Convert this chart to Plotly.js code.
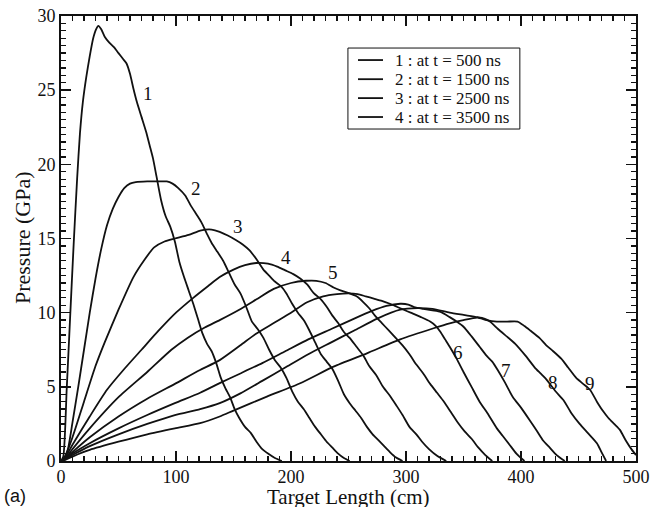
<!DOCTYPE html>
<html>
<head>
<meta charset="utf-8">
<script src="https://cdn.plot.ly/plotly-3.0.1.min.js"></script>
<style>
  html, body { margin: 0; padding: 0; background: #ffffff; }
  #chart { width: 650px; height: 507px; }
</style>
</head>
<body>
<div id="chart"></div>
<script>
// Pressure profiles along the target (x in cm, pressure in GPa), curves 1..9
const x1 = [0, 2, 5, 8, 11, 14, 16.5, 19, 22, 25, 28, 30.5, 32.5, 35, 38, 42, 46, 50, 54, 57, 60, 63, 66, 70, 74, 77, 80, 83, 87, 91, 95, 99, 103, 107, 111, 115, 119, 123, 127, 131, 135, 139, 143, 147, 151, 155, 160, 165, 170, 175, 180, 186, 192];
const y1 = [0, 0.3, 4.9, 9.8, 14.6, 19.0, 22.1, 24.2, 25.9, 27.3, 28.5, 29.1, 29.33, 29.1, 28.6, 28.2, 27.9, 27.5, 27.1, 26.8, 26.1, 25.1, 24.2, 23.2, 22.2, 21.3, 20.4, 19.2, 17.6, 16.5, 15.8, 14.8, 13.4, 12.4, 11.5, 10.6, 9.6, 8.6, 7.9, 7.4, 6.6, 5.6, 4.9, 4.3, 3.5, 2.9, 2.3, 1.9, 1.3, 0.8, 0.5, 0.2, 0];

const x2 = [0, 3, 6, 10, 15, 20, 25, 30, 35, 40, 45, 50, 55, 60, 65, 75, 85, 92, 97, 102, 108, 113, 118, 122, 127, 131, 136, 141, 146, 151, 156, 161, 166, 171, 176, 181, 186, 191, 196, 201, 206, 211, 216, 221, 226, 231, 236, 241, 246, 251];
const y2 = [0, 0.25, 0.8, 2.6, 5.0, 7.5, 10.0, 12.3, 14.3, 15.9, 17.0, 17.8, 18.4, 18.7, 18.8, 18.85, 18.85, 18.85, 18.7, 18.4, 17.9, 17.2, 16.6, 16.1, 15.3, 14.7, 14.1, 13.5, 12.7, 11.9, 11.3, 10.4, 9.4, 8.9, 8.3, 7.5, 6.8, 6.3, 5.6, 4.7, 4.0, 3.5, 2.9, 2.3, 1.8, 1.3, 0.9, 0.5, 0.2, 0];

const x3 = [0, 3, 10, 20, 30, 38, 50, 63, 72, 81, 90, 99, 111, 122, 131, 138, 145, 152, 158, 164, 170, 176, 181, 186, 191, 196, 201, 206, 211, 216, 221, 226, 231, 236, 241, 246, 251, 256, 261, 266, 271, 276, 281, 286, 291, 297];
const y3 = [0, 0.2, 1.6, 4.0, 6.4, 8.0, 10.2, 12.4, 13.5, 14.4, 14.8, 15.0, 15.25, 15.55, 15.6, 15.45, 15.2, 14.9, 14.6, 14.2, 13.6, 12.9, 12.5, 12.1, 11.8, 11.3, 10.6, 10.0, 9.5, 8.8, 8.0, 7.2, 6.7, 6.2, 5.4, 4.5, 3.9, 3.4, 2.9, 2.3, 1.8, 1.4, 1.0, 0.6, 0.25, 0];

const x4 = [0, 3, 10, 25, 40, 55, 70, 85, 100, 115, 128, 138, 150, 160, 170, 180, 188, 195, 202, 208, 214, 220, 226, 231, 236, 241, 246, 251, 257, 263, 268, 274, 280, 286, 292, 297, 303, 309, 314, 320, 327, 335];
const y4 = [0, 0.15, 1.1, 3.0, 4.8, 6.2, 7.5, 8.8, 10.0, 11.0, 11.8, 12.4, 12.9, 13.2, 13.35, 13.3, 13.1, 12.85, 12.6, 12.3, 11.9, 11.3, 10.9, 10.4, 9.8, 9.3, 8.7, 8.3, 7.7, 7.1, 6.4, 5.8, 5.0, 4.4, 3.7, 3.1, 2.3, 1.8, 1.3, 0.8, 0.35, 0];

const x5 = [0, 3, 10, 25, 50, 75, 96, 110, 125, 138, 155, 170, 185, 200, 213, 222, 230, 237, 243, 251, 257, 263, 268, 273, 279, 285, 291, 297, 303, 309, 315, 321, 327, 333, 339, 345, 351, 357, 363, 369, 375];
const y5 = [0, 0.1, 0.8, 2.2, 4.3, 6.0, 7.5, 8.3, 9.0, 9.5, 10.2, 10.9, 11.6, 12.0, 12.15, 12.15, 12.0, 11.7, 11.5, 11.3, 11.1, 10.7, 10.3, 9.8, 9.3, 8.8, 8.3, 7.8, 7.2, 6.5, 5.9, 5.2, 4.6, 4.0, 3.3, 2.6, 2.0, 1.5, 0.9, 0.4, 0];

const x6 = [0, 3, 10, 25, 50, 75, 99, 120, 138, 156, 170, 185, 200, 214, 228, 240, 250, 258, 265, 272, 279, 286, 292, 298, 304, 313, 321, 326, 330, 334, 338, 344, 350, 357, 364, 371, 379, 384, 390, 396, 403];
const y6 = [0, 0.1, 0.6, 1.6, 3.0, 4.2, 5.2, 6.1, 6.8, 7.8, 8.6, 9.3, 10.0, 10.7, 11.1, 11.25, 11.3, 11.25, 11.1, 10.95, 10.8, 10.6, 10.4, 10.2, 10.0, 9.7, 9.4, 9.1, 8.7, 8.2, 7.7, 6.9, 6.0, 5.0, 4.0, 3.2, 2.2, 1.7, 1.1, 0.5, 0];

const x7 = [0, 3, 10, 25, 50, 75, 99, 121, 138, 156, 175, 195, 215, 235, 255, 270, 283, 295, 302, 308, 315, 323, 330, 338, 344, 350, 357, 364, 370, 375, 380, 386, 393, 400, 408, 414, 419, 425, 431, 438];
const y7 = [0, 0.1, 0.5, 1.2, 2.2, 3.1, 3.9, 4.6, 5.25, 5.9, 6.6, 7.4, 8.2, 8.9, 9.6, 10.1, 10.45, 10.6, 10.55, 10.35, 10.25, 10.15, 10.05, 9.7, 9.4, 9.05, 8.4, 7.7, 7.1, 6.7, 6.1, 5.3, 4.3, 3.6, 2.7, 2.0, 1.4, 0.9, 0.4, 0];

const x8 = [0, 3, 10, 25, 50, 75, 99, 121, 138, 156, 175, 195, 215, 235, 255, 275, 295, 310, 323, 338, 350, 362, 368, 373, 380, 387.5, 395, 405, 412, 417, 422, 430, 437, 444, 451, 458, 466, 470, 474];
const y8 = [0, 0.1, 0.4, 1.0, 1.8, 2.5, 3.1, 3.5, 3.9, 4.56, 5.4, 6.3, 7.2, 8.0, 8.8, 9.6, 10.2, 10.3, 10.25, 10.0, 9.85, 9.7, 9.6, 9.4, 8.9, 8.4, 7.9, 7.0, 6.3, 5.9, 5.5, 4.7, 4.1, 3.2, 2.5, 1.9, 1.2, 0.6, 0];

const x9 = [0, 3, 10, 25, 50, 75, 99, 121, 138, 150, 179, 208, 237, 266, 295, 324, 338, 350, 362, 370, 379, 388, 397, 403, 408, 416, 422, 428, 435, 441, 448, 454, 460, 466, 471, 476, 481, 486, 491, 496, 500];
const y9 = [0, 0.05, 0.3, 0.75, 1.3, 1.8, 2.2, 2.55, 3.0, 3.4, 4.34, 5.24, 6.36, 7.26, 8.2, 8.95, 9.28, 9.5, 9.67, 9.5, 9.4, 9.4, 9.4, 9.1, 8.8, 8.3, 7.8, 7.4, 6.9, 6.3, 5.6, 5.2, 4.8, 4.0, 3.4, 2.9, 2.5, 2.1, 1.4, 0.8, 0.4];

const curveX = [x1, x2, x3, x4, x5, x6, x7, x8, x9];
const curveY = [y1, y2, y3, y4, y5, y6, y7, y8, y9];

// Legend entries (first four profiles)
const legendNames = ['1 : at t = 500 ns', '2 : at t = 1500 ns', '3 : at t = 2500 ns', '4 : at t = 3500 ns'];

// Curve number labels and where they sit
const curveLabels = ['1', '2', '3', '4', '5', '6', '7', '8', '9'];
const labelX = [75.7, 117.5, 154.0, 196.0, 236.5, 345.5, 387.0, 428.0, 460.0];
const labelY = [24.8, 18.4, 15.8, 13.7, 12.7, 7.3, 6.1, 5.3, 5.2];

// Axis ticks and titles
const xTicks = [0, 100, 200, 300, 400, 500];
const yTicks = [0, 5, 10, 15, 20, 25, 30];
const xTitle = 'Target Length (cm)';
const yTitle = 'Pressure (GPa)';

const serif = 'Liberation Serif';
const ink = '#111111';

const traces = curveX.map((xs, i) => ({
  x: xs,
  y: curveY[i],
  type: 'scatter',
  mode: 'lines',
  name: i < legendNames.length ? legendNames[i] : 'curve ' + curveLabels[i],
  showlegend: false,
  line: { color: ink, width: 1.8, shape: 'spline', smoothing: 0.6 },
  hoverinfo: 'skip'
}));

const annotations = curveLabels.map((t, i) => ({
  x: labelX[i], y: labelY[i], xref: 'x', yref: 'y',
  text: t, showarrow: false,
  font: { family: serif, size: 19, color: ink }
}));

// Legend box in plot-area (paper) fractions
const legBox = { x0: 0.499, x1: 0.798, y0: 0.746, y1: 0.928 };
const legRowY = [0.901, 0.858, 0.8155, 0.773];
const legLineX = [0.5165, 0.560];
const legTextX = 0.5774;

const shapes = [{
  type: 'rect', xref: 'paper', yref: 'paper',
  x0: legBox.x0, x1: legBox.x1, y0: legBox.y0, y1: legBox.y1,
  line: { color: ink, width: 1 }, fillcolor: '#ffffff', layer: 'above'
}];
legendNames.forEach((name, i) => {
  shapes.push({
    type: 'line', xref: 'paper', yref: 'paper',
    x0: legLineX[0], x1: legLineX[1], y0: legRowY[i], y1: legRowY[i],
    line: { color: ink, width: 1.8 }, layer: 'above'
  });
  annotations.push({
    x: legTextX, y: legRowY[i], xref: 'paper', yref: 'paper',
    xanchor: 'left', yanchor: 'middle',
    text: name, showarrow: false,
    font: { family: serif, size: 17, color: ink }
  });
});

// Axis titles
annotations.push({
  x: 0.5, y: -0.0815, xref: 'paper', yref: 'paper',
  xanchor: 'center', yanchor: 'middle',
  text: xTitle, showarrow: false,
  font: { family: serif, size: 21, color: ink }
});
annotations.push({
  x: -0.0678, y: 0.501, xref: 'paper', yref: 'paper',
  xanchor: 'center', yanchor: 'middle', textangle: -90,
  text: yTitle, showarrow: false,
  font: { family: serif, size: 22, color: ink }
});

annotations.push({
  x: -0.103, y: -0.078, xref: 'paper', yref: 'paper',
  xanchor: 'left', yanchor: 'middle',
  text: '(a)', showarrow: false,
  font: { family: 'Liberation Sans', size: 18, color: ink }
});

const axisCommon = {
  showgrid: false,
  zeroline: false,
  showline: true,
  linecolor: ink,
  linewidth: 2,
  mirror: 'ticks',
  ticks: 'inside',
  ticklen: 10,
  tickwidth: 1.4,
  tickcolor: ink,
  tickfont: { family: serif, size: 18, color: ink }
};

const layout = {
  width: 650,
  height: 507,
  margin: { l: 61, r: 14, t: 16, b: 46 },
  paper_bgcolor: '#ffffff',
  plot_bgcolor: '#ffffff',
  font: { family: serif, color: ink },
  xaxis: Object.assign({}, axisCommon, {
    range: [0, 500],
    tickvals: xTicks,
    ticktext: xTicks.map(String),
    ticklabelstandoff: -2,
    minor: { dtick: 10, ticklen: 5, tickwidth: 1.2, tickcolor: ink, ticks: 'inside' }
  }),
  yaxis: Object.assign({}, axisCommon, {
    range: [0, 30],
    tickvals: yTicks,
    ticktext: yTicks.map(String),
    minor: { dtick: 0.5, ticklen: 5, tickwidth: 1.2, tickcolor: ink, ticks: 'inside' }
  }),
  showlegend: false,
  shapes: shapes,
  annotations: annotations
};

Plotly.newPlot('chart', traces, layout, { displayModeBar: false, staticPlot: true });
</script>
</body>
</html>
